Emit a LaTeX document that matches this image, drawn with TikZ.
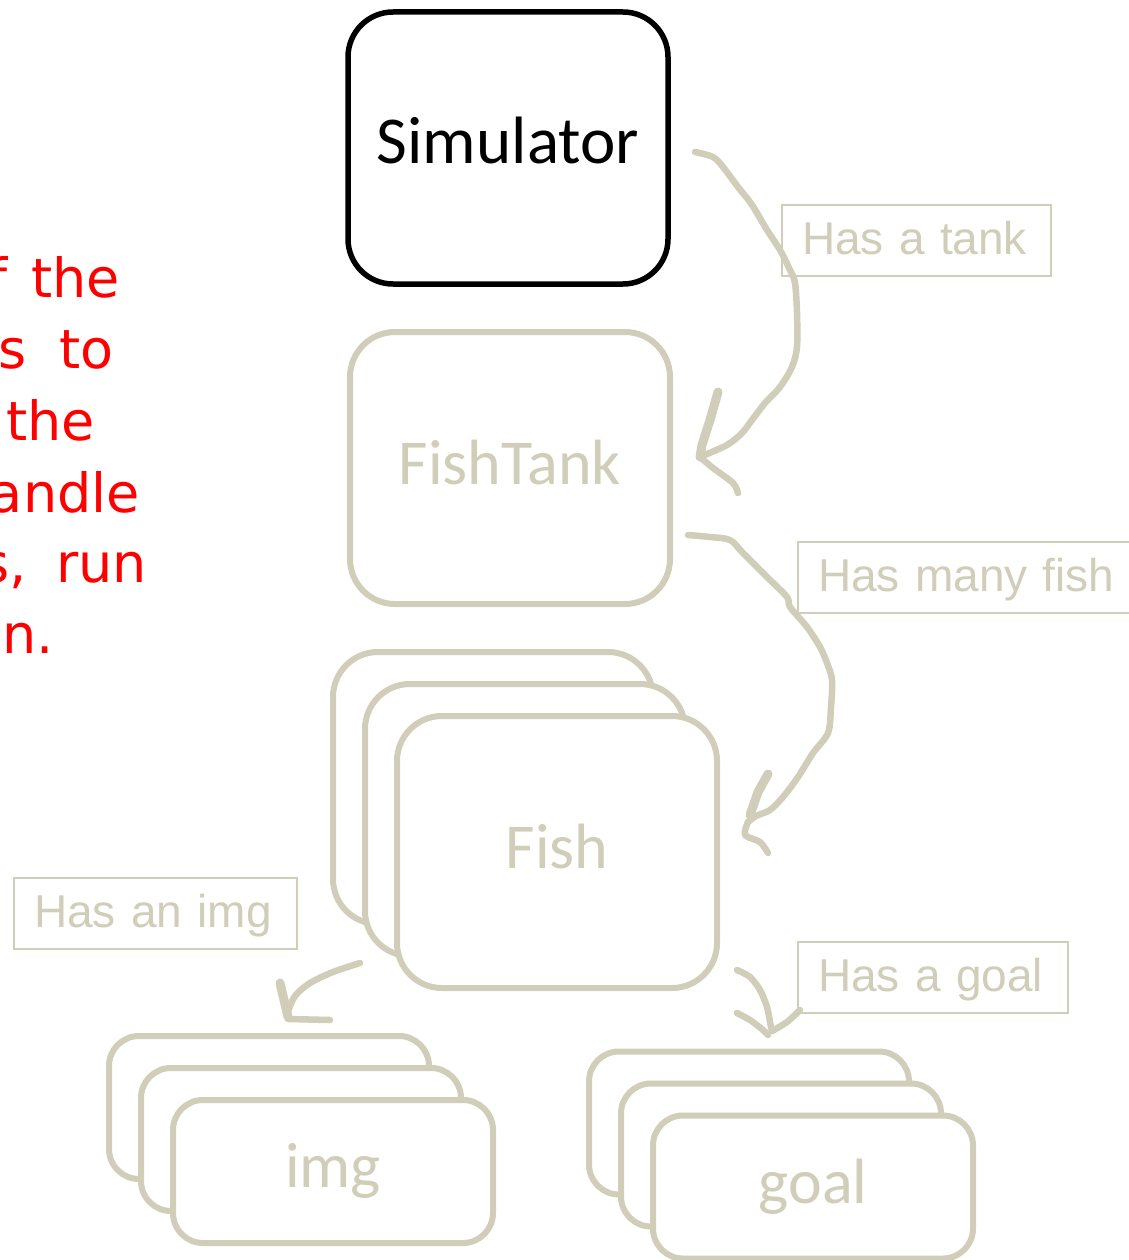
\documentclass[tikz,border=0pt]{standalone}
\usepackage{fontspec}
\newfontfamily\boxfont{Carlito}
\newfontfamily\tagfont{Liberation Sans}
\newfontfamily\notefont{DejaVu Sans}
\definecolor{khaki}{RGB}{208,205,184}
\definecolor{notered}{RGB}{255,0,0}

\begin{document}
\begin{tikzpicture}[x=1pt,y=-1pt,
  box/.style={draw=khaki, fill=white, line width=6pt, rounded corners=45pt,
    minimum width=320pt, minimum height=272pt, inner sep=0pt, text=khaki,
    font=\boxfont\fontsize{64}{70}\selectfont, text height=32pt, text depth=0pt},
  smallbox/.style={box, rounded corners=30pt, minimum height=143pt},
  tag/.style={draw=khaki, line width=2pt, text=khaki,
    font=\tagfont\fontsize{46}{50}\selectfont, align=left, inner xsep=20pt,
    inner ysep=0pt, minimum height=71pt, text height=33pt, text depth=6pt,
    anchor=north west},
  conn/.style={draw=khaki, line width=6.5pt, line cap=round, line join=round},
  head/.style={conn, line width=9pt},
  note/.style={text=notered, font=\notefont\fontsize{54}{60}\selectfont,
    anchor=base east, inner sep=0pt}
]
\useasboundingbox (0,0) rectangle (1128,1260);

% red remark, running off the left edge
\node[note] (n1a) at (8,297) {f};
\node[note] (n1b) at (120,297) {the};
\node[note] (n2a) at (27,368) {s};
\node[note] (n2b) at (114,368) {to};
\node[note] (n3)  at (95,440) {the};
\node[note] (n4)  at (140,512) {andle};
\node[note] (n5a) at (27,582) {s,};
\node[note] (n5b) at (147,582) {run};
\node[note] (n6)  at (54,653) {n.};

% class boxes
\node[box, draw=black, line width=5.5pt, text=black,
  font=\boxfont\fontsize{67}{72}\selectfont] (sim) at (508,148) {Simulator};
\node[box] (tank) at (510,468) {FishTank};

\node[box] (fish3) at (493,788) {};
\node[box] (fish2) at (525,820) {};
\node[box] (fish)  at (557,852) {Fish};

\node[smallbox] (img3) at (269,1107.5) {};
\node[smallbox] (img2) at (301,1139.5) {};
\node[smallbox] (img)  at (333,1171.5) {img};

\node[smallbox] (goal3) at (749,1123) {};
\node[smallbox] (goal2) at (781,1155) {};
\node[smallbox] (goal)  at (813,1187) {goal};

% relation labels
\node[tag, text width=229pt] (ltank) at (781,204) {Has a tank};
\node[tag, text width=305pt] (lfish) at (797,541) {Has many fish};
\node[tag, text width=243pt] (limg)  at (13,877)  {Has an img};
\node[tag, text width=230pt] (lgoal) at (797,941) {Has a goal};

% hand-drawn connectors
\coordinate (s1) at (695,152);  \coordinate (e1) at (700,457);
\coordinate (s2) at (688,535);  \coordinate (e2) at (748,822);
\coordinate (s3) at (360,963);  \coordinate (e3) at (287,1014);
\coordinate (s4) at (737,970);  \coordinate (e4) at (772,1031);

% Simulator -> FishTank
\draw[conn] plot[smooth, tension=0.5] coordinates {(s1) (713,157) (723,167)
  (738,187) (750,202) (757,213) (767,230) (780,250) (790,270) (795,283)
  (797,313) (797,347) (792,367) (780,387) (765,403) (752,420) (742,433)
  (727,445) (e1)};
\draw[head] (718,392) -- (710,420) -- (702,445) -- (e1);
\draw[conn] plot[smooth, tension=0.5] coordinates {(e1) (713,468) (733,483) (738,493)};

% FishTank -> Fish
\draw[conn] plot[smooth, tension=0.5] coordinates {(s2) (710,537) (730,540)
  (743,553) (767,577) (787,597) (790,607) (807,627) (820,647) (827,663)
  (832,680) (831,707) (828,733) (813,753) (798,777) (783,797) (770,810)
  (756,816) (e2)};
\draw[head] (768,774) -- (758,792) -- (750,815);
\draw[conn] plot[smooth, tension=0.5] coordinates {(e2) (745,835) (760,842) (768,853)};

% Fish -> img
\draw[conn] plot[smooth, tension=0.5] coordinates {(s3) (333,972) (310,983)
  (295,996) (e3)};
\draw[head] (280,983) -- (288,1017);
\draw[conn] (288,1019) -- (330,1020);

% Fish -> goal
\draw[conn] plot[smooth, tension=0.5] coordinates {(s4) (750,977) (760,990)
  (767,1007) (770,1022) (e4)};
\draw[conn] plot[smooth, tension=0.5] coordinates {(737,1013) (750,1020)
  (763,1030) (768,1035)};
\draw[conn] plot[smooth, tension=0.5] coordinates {(e4) (787,1022) (800,1010)};
\end{tikzpicture}
\end{document}
